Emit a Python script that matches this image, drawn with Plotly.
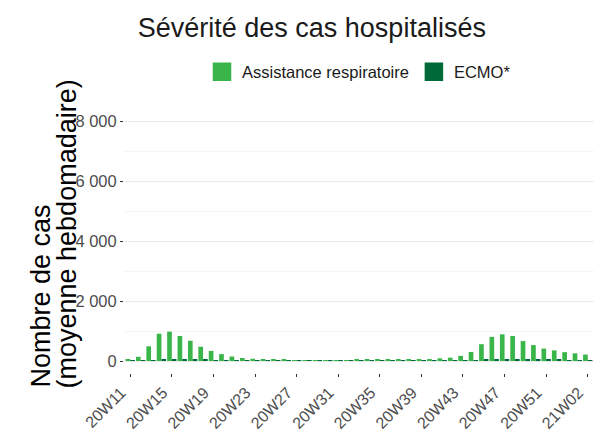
import plotly.graph_objects as go

weeks = ["20W%02d" % w for w in range(11, 54)] + ["21W01", "21W02"]

assistance = [40, 140, 490, 910, 980, 835, 675, 475, 335, 230, 150, 100, 75, 55,
              45, 35, 30, 25, 25, 25, 25, 30, 35, 40, 40, 40, 40, 45, 50, 60,
              90, 110, 170, 300, 560, 805, 890, 835, 665, 530, 415, 355, 295, 255, 215]

ecmo = [5, 12, 30, 50, 58, 55, 48, 40, 30, 24, 18, 14, 11, 9,
        8, 7, 6, 6, 5, 5, 5, 6, 6, 7, 7, 7, 8, 8, 9, 10,
        12, 15, 20, 28, 40, 50, 56, 55, 50, 45, 40, 36, 32, 30, 28]

tick_weeks = weeks[::4]
y_ticks = [0, 2000, 4000, 6000, 8000]
y_ticktext = ["0", "2 000", "4 000", "6 000", "8 000"]

LIGHT = "#3AB54A"
DARK = "#00693A"

W, H = 602, 437
L, R, T, B = 124, 8, 109, 64
pw, ph = W - L - R, H - T - B

def px_x(x):
    return (x - L) / pw

def px_y(y):
    return (H - B - y) / ph

fig = go.Figure()
fig.add_trace(go.Bar(x=weeks, y=assistance, name="Assistance respiratoire",
                     marker=dict(color=LIGHT, line=dict(width=0)), showlegend=False))
fig.add_trace(go.Bar(x=weeks, y=ecmo, name="ECMO*",
                     marker=dict(color=DARK, line=dict(width=0)), showlegend=False))
# legend keys
fig.add_trace(go.Scatter(x=[None], y=[None], mode="markers", name="Assistance respiratoire",
                         marker=dict(symbol="square", size=16, color=LIGHT,
                                     line=dict(width=2.5, color=LIGHT))))
fig.add_trace(go.Scatter(x=[None], y=[None], mode="markers", name="ECMO*",
                         marker=dict(symbol="square", size=16, color=DARK,
                                     line=dict(width=2.5, color=DARK))))

fig.update_layout(
    width=W, height=H,
    paper_bgcolor="white", plot_bgcolor="white",
    margin=dict(l=L, r=R, t=T, b=B, autoexpand=False),
    font=dict(family="Liberation Sans, Arial, sans-serif", color="#000000"),
    title=dict(text="Sévérité des cas hospitalisés", x=0.518, xanchor="center",
               xref="container", y=0.938, yanchor="middle", yref="container",
               font=dict(size=27, color="#1a1a1a")),
    barmode="group", bargap=0.1, bargroupgap=0,
    legend=dict(orientation="h", x=0.5, xanchor="center", xref="paper",
                y=1.14, yanchor="middle", font=dict(size=16.5, color="#1a1a1a"),
                itemsizing="trace"),
    xaxis=dict(type="category", range=[-0.6, len(weeks) - 0.4],
               tickmode="array", tickvals=tick_weeks, ticktext=tick_weeks,
               tickangle=-45, ticks="outside", ticklen=3, tickcolor="#333333",
               tickfont=dict(size=16, color="#4D4D4D"), showgrid=False,
               zeroline=False, showline=False, automargin=False,
               ticklabelshift=-9),
    yaxis=dict(range=[-400, 8400], tickmode="array", tickvals=y_ticks,
               ticktext=y_ticktext, ticks="outside", ticklen=3, tickcolor="#333333",
               tickfont=dict(size=16.5, color="#4D4D4D"), showgrid=True,
               gridcolor="#EBEBEB", gridwidth=1, zeroline=False, showline=False,
               automargin=False,
               minor=dict(tickmode="linear", tick0=1000, dtick=2000, showgrid=True,
                          gridcolor="#F5F5F5", gridwidth=0.6, ticks="")),
    annotations=[
        dict(text="Nombre de cas", textangle=-90, xref="paper", yref="paper",
             x=px_x(40), y=px_y(390), xanchor="center", yanchor="bottom",
             showarrow=False, font=dict(size=27, color="#000000")),
        dict(text="(moyenne hebdomadaire)", textangle=-90, xref="paper", yref="paper",
             x=px_x(66), y=px_y(391), xanchor="center", yanchor="bottom",
             showarrow=False, font=dict(size=27, color="#000000")),
    ],
)

fig.write_html(
    "out.html",
    config={"displayModeBar": False},
    post_script="document.body.style.margin='0';document.body.style.padding='0';"
                "document.body.style.overflow='hidden';",
)
